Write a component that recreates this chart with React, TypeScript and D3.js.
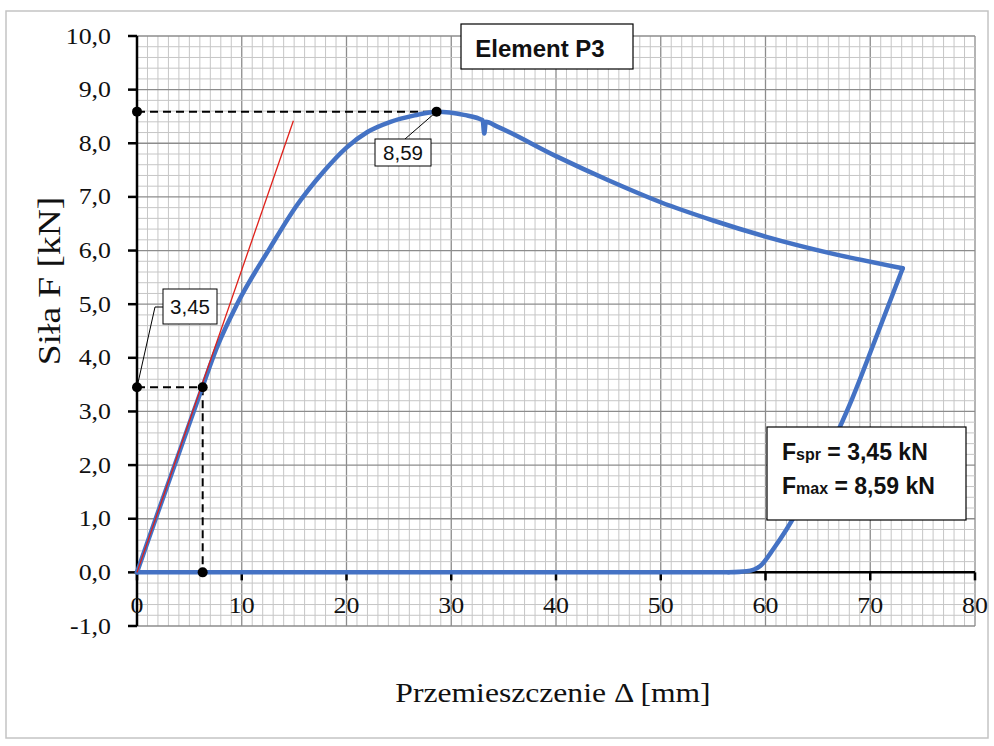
import { scaleLinear, range, line, curveMonotoneX, curveLinear, format } from 'd3'

const width = 994,
      height = 746,
      margin = { top: 36, right: 19, bottom: 120, left: 137 }

// loading branch up to the end of test: displacement [mm], force [kN]
const loadDisp = [0, 2, 4, 6.27, 7.6, 9.5, 12.7, 15.25, 17.8, 20, 22, 24.2, 26.5, 28.6, 31.2, 33.0, 33.15, 33.3, 34.4, 40, 45, 50, 55, 60, 67.1, 73.1]
const loadForce = [0, 1.12, 2.22, 3.47, 4.18, 4.98, 6.05, 6.84, 7.47, 7.92, 8.21, 8.4, 8.52, 8.59, 8.53, 8.43, 8.18, 8.4, 8.31, 7.76, 7.31, 6.9, 6.56, 6.26, 5.91, 5.67]

// unloading branch (ascending displacement)
const unloadDisp = [56.5, 58.2, 59.5, 60.8, 62.0, 63.5, 66.0, 68.3, 70.5, 73.1]
const unloadForce = [0, 0.02, 0.12, 0.45, 0.8, 1.3, 2.25, 3.25, 4.35, 5.67]

// return along zero
const returnDisp = [0, 56.5]
const returnForce = [0, 0]

// elastic tangent (red) from origin
const tangentX = [0, 14.93]
const tangentY = [0, 8.42]

const fSpr = 3.45, dSpr = 6.27
const fMax = 8.59, dMax = 28.6

const xTicks = range(0, 81, 10)
const yTicks = range(-1, 10.5, 1)
const xMinor = range(0, 81, 1)
const yMinor = range(-1, 10.05, 0.2)

const x = scaleLinear().domain([0, 80]).range([margin.left, width - margin.right])
const y = scaleLinear().domain([-1, 10]).range([height - margin.bottom, margin.top])

const comma = (f: string) => (v: number) => format(f)(v).replace('.', ',').replace('−', '-')
const fmt1 = comma('.1f')
const fmt2 = comma('.2f')

const serif = '"Liberation Serif", "Times New Roman", serif'
const sans = '"Liberation Sans", Arial, sans-serif'

const zip = (a: number[], b: number[]) => a.map((d, i) => [d, b[i]] as [number, number])

export default function App() {
  const smooth = line<[number, number]>().x(d => x(d[0])).y(d => y(d[1])).curve(curveMonotoneX)
  const straight = line<[number, number]>().x(d => x(d[0])).y(d => y(d[1])).curve(curveLinear)

  const x0 = x(0), y0 = y(0)
  const blue = '#4472c4'

  return (
    <svg width={width} height={height} style={{ position: 'absolute', left: 0, top: 0, background: '#fff' }}>
      <rect x={6} y={11} width={982} height={727} fill='#fff' stroke='#c4c4c4' strokeWidth={1.5} />

      {/* grid */}
      <g className='grid'>
        {xMinor.map(v =>
          <line key={'xm' + v} x1={x(v)} x2={x(v)} y1={y(-1)} y2={y(10)}
            stroke={v % 10 === 0 ? '#8c8c8c' : '#c6c6c6'} strokeWidth={v % 10 === 0 ? 1.3 : 1} />
        )}
        {yMinor.map((v, i) =>
          <line key={'ym' + i} x1={x(0)} x2={x(80)} y1={y(v)} y2={y(v)}
            stroke={i % 5 === 0 ? '#8c8c8c' : '#c6c6c6'} strokeWidth={i % 5 === 0 ? 1.3 : 1} />
        )}
      </g>

      {/* axes */}
      <line x1={x0} x2={x0} y1={y(-1)} y2={y(10)} stroke='#000' strokeWidth={2.5} />
      {yTicks.map(v =>
        <g key={'yt' + v}>
          <line x1={x0 - 9} x2={x0} y1={y(v)} y2={y(v)} stroke='#000' strokeWidth={2.5} />
          <text transform={`translate(111, ${y(v) + 7.5}) scale(1.15, 1)`} textAnchor='end' fontFamily={serif} fontSize={22.5} fill='#111'>{fmt1(v)}</text>
        </g>
      )}
      <line x1={x(0)} x2={x(80)} y1={y0} y2={y0} stroke='#000' strokeWidth={2.5} />
      {xTicks.map(v =>
        <g key={'xt' + v}>
          <line x1={x(v)} x2={x(v)} y1={y0} y2={y0 + 8} stroke='#000' strokeWidth={2.5} />
          <text transform={`translate(${x(v)}, 613) scale(1.15, 1)`} textAnchor='middle' fontFamily={serif} fontSize={22.5} fill='#111'>{v}</text>
        </g>
      )}

      <text transform='translate(553, 702) scale(1.15, 1)' textAnchor='middle' fontFamily={serif} fontSize={27.5} fill='#111'>Przemieszczenie Δ [mm]</text>
      <text transform='translate(60, 281) rotate(-90) scale(1.17, 1)' textAnchor='middle' fontFamily={serif} fontSize={32} fill='#111'>Siła F [kN]</text>

      {/* dashed guides */}
      <g stroke='#000' strokeWidth={2} strokeDasharray='8,5' fill='none'>
        <line x1={x(0)} x2={x(dMax)} y1={y(fMax)} y2={y(fMax)} />
        <line x1={x(0)} x2={x(dSpr)} y1={y(fSpr)} y2={y(fSpr)} />
        <line x1={x(dSpr)} x2={x(dSpr)} y1={y(fSpr)} y2={y(0)} />
      </g>

      {/* measured curve */}
      <g fill='none' stroke={blue} strokeWidth={4.5} strokeLinejoin='round' strokeLinecap='round'>
        <path d={straight(zip(returnDisp, returnForce)) ?? ''} />
        <path d={smooth(zip(loadDisp, loadForce)) ?? ''} />
        <path d={smooth(zip(unloadDisp, unloadForce)) ?? ''} />
      </g>

      {/* tangent */}
      <line x1={x(tangentX[0])} y1={y(tangentY[0])} x2={x(tangentX[1])} y2={y(tangentY[1])} stroke='#e0201a' strokeWidth={1.3} />

      {/* markers */}
      {[[0, fMax], [dMax, fMax], [0, fSpr], [dSpr, fSpr], [dSpr, 0]].map((p, i) =>
        <circle key={'m' + i} cx={x(p[0])} cy={y(p[1])} r={5} fill='#000' />
      )}

      {/* callouts */}
      <polyline points={`${x(0)},${y(fSpr)} 155,307 163,307`} fill='none' stroke='#000' strokeWidth={1} />
      <rect x={163} y={289} width={54} height={35} fill='#fff' stroke='#000' strokeWidth={1} />
      <text x={190} y={314} textAnchor='middle' fontFamily={sans} fontSize={20.5} fill='#111'>{fmt2(fSpr)}</text>

      <line x1={x(dMax)} y1={y(fMax)} x2={405} y2={139} stroke='#000' strokeWidth={1} />
      <rect x={375} y={139} width={56} height={27} fill='#fff' stroke='#000' strokeWidth={1} />
      <text x={403} y={160} textAnchor='middle' fontFamily={sans} fontSize={20.5} fill='#111'>{fmt2(fMax)}</text>

      <rect x={461} y={24} width={172} height={45} fill='#fff' stroke='#000' strokeWidth={1.2} />
      <text x={540} y={57} textAnchor='middle' fontFamily={sans} fontWeight='bold' fontSize={24} fill='#111'>Element P3</text>

      <rect x={767} y={427} width={199} height={93} fill='#fff' stroke='#000' strokeWidth={1.2} />
      <text x={782} y={460} fontFamily={sans} fontWeight='bold' fontSize={23} fill='#111'>
        F<tspan fontSize={16}>spr</tspan> = {fmt2(fSpr)} kN
      </text>
      <text x={782} y={494} fontFamily={sans} fontWeight='bold' fontSize={23} fill='#111'>
        F<tspan fontSize={16}>max</tspan> = {fmt2(fMax)} kN
      </text>
    </svg>
  )
}
